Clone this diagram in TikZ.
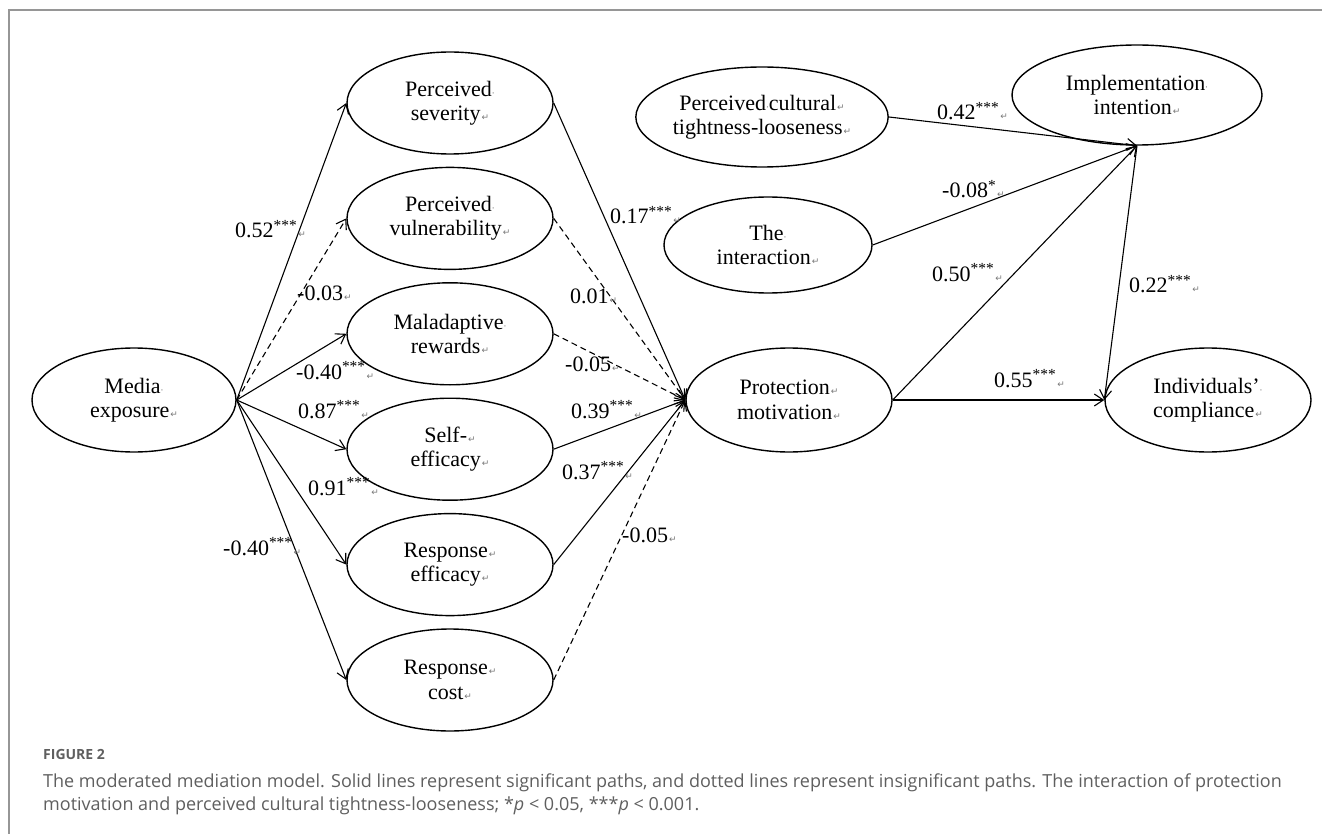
\documentclass[tikz,border=0pt]{standalone}
\usepackage{fontspec}
\setmainfont{Liberation Serif}
\newfontfamily\capfont{Open Sans}
\newfontfamily\markfont{DejaVu Sans}
\usetikzlibrary{arrows.meta,shapes.geometric,positioning}

\definecolor{framegray}{RGB}{150,150,150}
\definecolor{capgray}{RGB}{95,95,95}
\definecolor{markgray}{RGB}{120,120,120}

% Word formatting marks as printed in the figure
\newcommand{\parmk}{{\markfont\fontsize{9}{9}\selectfont\color{markgray}\kern1pt ↵}}
\newcommand{\spmk}{{\markfont\fontsize{9}{9}\selectfont\color{markgray}·}}
\newcommand{\sig}[1]{#1\textsuperscript{***}}

\begin{document}
\begin{tikzpicture}[x=1pt,y=-1pt,
    construct/.style={ellipse,draw,line width=1.4pt,inner sep=0pt,align=center,
      font=\fontsize{22}{24.5}\selectfont},
    mediator/.style={construct,minimum width=206pt,minimum height=102pt},
    pathsig/.style={-{Straight Barb[length=9pt,width=12pt]},line width=1.1pt},
    pathns/.style={pathsig,dash pattern=on 6pt off 4pt},
    coef/.style={anchor=base west,inner sep=0pt,font=\fontsize{22}{24}\selectfont}]
  \useasboundingbox (0,0) rectangle (1322,834);
  \draw[framegray,line width=1.5pt] (9,834) -- (9,10) -- (1322,10);

  % constructs
  \node[construct,minimum width=204pt,minimum height=104pt] (media) at (134,400) {Media\spmk\\exposure\parmk};
  \node[mediator] (sev) at (450,103) {Perceived\spmk\\severity\parmk};
  \node[mediator,below=12pt of sev] (vul) {Perceived\spmk\\vulnerability\parmk};
  \node[mediator,below=12pt of vul] (mal) {Maladaptive\spmk\\rewards\parmk};
  \node[mediator,below=12pt of mal] (selfeff) {Self-\parmk\\efficacy\parmk};
  \node[mediator,below=12pt of selfeff] (respeff) {Response\parmk\\efficacy\parmk};
  \node[mediator,below=12pt of respeff] (respcost) {Response\parmk\\cost\parmk};
  \node[construct,minimum width=242pt,minimum height=100pt] (ctl) at (762,117) {Perceived\spmk cultural\parmk\\tightness-looseness\parmk};
  \node[construct,minimum width=208pt,minimum height=96pt] (inter) at (768,245) {The\spmk\\interaction\parmk};
  \node[construct,minimum width=206pt,minimum height=104pt] (prot) at (789,400) {Protection\parmk\\motivation\parmk};
  \node[construct,minimum width=250pt,minimum height=100pt] (impl) at (1137,95) {Implementation\spmk\\intention\parmk};
  \node[construct,minimum width=206pt,minimum height=104pt] (comp) at (1208,400) {Individuals’\spmk\\compliance\parmk};

  % paths
  \draw[pathsig] (media.east) -- (sev.west);
  \draw[pathns] (media.east) -- (vul.west);
  \draw[pathsig] (media.east) -- (mal.west);
  \draw[pathsig] (media.east) -- (selfeff.west);
  \draw[pathsig] (media.east) -- (respeff.west);
  \draw[pathsig] (media.east) -- (respcost.west);
  \draw[pathsig] (sev.east) -- (prot.west);
  \draw[pathns] (vul.east) -- (prot.west);
  \draw[pathns] (mal.east) -- (prot.west);
  \draw[pathsig] (selfeff.east) -- (prot.west);
  \draw[pathsig] (respeff.east) -- (prot.west);
  \draw[pathns] (respcost.east) -- (prot.west);
  \draw[pathsig] (ctl.east) -- (impl.south);
  \draw[pathsig] (inter.east) -- (impl.south);
  \draw[pathsig] (prot.east) -- (impl.south);
  \draw[pathsig] (impl.south) -- (comp.west);
  \draw[pathsig] (prot.east) -- (comp.west);

  % coefficients
  \node[coef] (c-sev) at (235,238) {\sig{0.52}\parmk};
  \node[coef] (c-vul) at (297,301) {-0.03\parmk};
  \node[coef] (c-mal) at (296,379) {\sig{-0.40}\parmk};
  \node[coef] (c-self) at (298,418) {\sig{0.87}\parmk};
  \node[coef] (c-resp) at (308,495) {\sig{0.91}\parmk};
  \node[coef] (c-cost) at (223,555) {\sig{-0.40}\parmk};
  \node[coef] (c-sevp) at (610,224) {\sig{0.17}\parmk};
  \node[coef] (c-vulp) at (570,303) {0.01\parmk};
  \node[coef] (c-malp) at (565,371) {-0.05\parmk};
  \node[coef] (c-selfp) at (571,418) {\sig{0.39}\parmk};
  \node[coef] (c-respp) at (562,479) {\sig{0.37}\parmk};
  \node[coef] (c-costp) at (622,542) {-0.05\parmk};
  \node[coef] (c-ctl) at (937,120) {\sig{0.42}\parmk};
  \node[coef] (c-inter) at (942,198) {-0.08\textsuperscript{*}\parmk};
  \node[coef] (c-prot) at (932,281) {\sig{0.50}\parmk};
  \node[coef] (c-impl) at (1129,293) {\sig{0.22}\parmk};
  \node[coef] (c-comp) at (994,387) {\sig{0.55}\parmk};

  % caption
  \node[anchor=base west,inner sep=0pt,text=capgray,font=\capfont\bfseries\fontsize{14}{17}\selectfont] (fig) at (43,759) {FIGURE 2};
  \node[anchor=base west,inner sep=0pt,text=capgray,align=left,font=\capfont\fontsize{18}{23}\selectfont] (cap) at (43,810)
    {The moderated mediation model. Solid lines represent significant paths, and dotted lines represent insignificant paths. The interaction of protection\\
     motivation and perceived cultural tightness-looseness; *\textit{p} < 0.05, ***\textit{p} < 0.001.};
\end{tikzpicture}
\end{document}
